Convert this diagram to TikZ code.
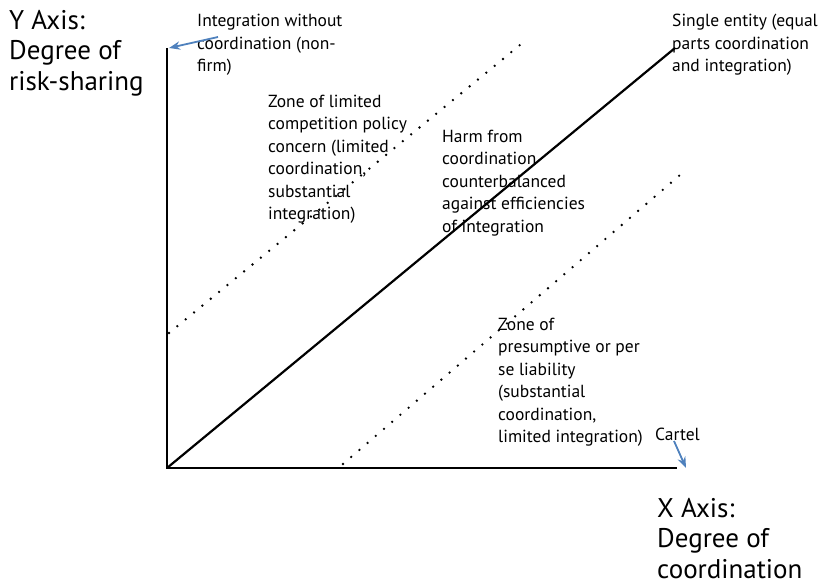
\documentclass[tikz,border=0pt]{standalone}
\usepackage{fontspec}
\setmainfont{PT Sans}
\usetikzlibrary{arrows.meta}
\definecolor{bluoffice}{RGB}{79,129,189}
\tikzset{
>=Stealth,
asse/.style={line width=2.6pt},
diagonale/.style={line width=2.2pt},
punteggiata/.style={line width=2.6pt,line cap=round,dash pattern=on 0pt off 10.8pt},
freccia/.style={->,draw=bluoffice,line width=1.8pt},
nota/.style={anchor=north west,inner sep=0pt,align=left,font=\fontsize{17.5}{22.5}\selectfont},
titolo/.style={anchor=north west,inner sep=0pt,align=left,font=\fontsize{27}{30.5}\selectfont}}

\begin{document}
\begin{tikzpicture}[x=1pt,y=-1pt]
\useasboundingbox (0,0) rectangle (821,583);

\coordinate (O) at (167,468);
\coordinate (ycima) at (167,48);
\coordinate (xfine) at (677,468);
\coordinate (diag) at (675,48);
\coordinate (p1) at (169,333);
\coordinate (p2) at (520,45);
\coordinate (q1) at (343,464);
\coordinate (q2) at (680,175);
\coordinate (f1) at (218,37);
\coordinate (f2) at (169,48);
\coordinate (c1) at (674,441);
\coordinate (c2) at (686,468);

\node[titolo] (yasse) at (9,10) {Y Axis:\\Degree of\\risk-sharing};
\node[titolo] (xasse) at (657,498) {X Axis:\\Degree of\\coordination};
\node[nota] (nonfirm) at (197,14) {Integration without\\coordination (non-\\firm)};
\node[nota] (entita) at (672,14) {Single entity (equal\\parts coordination\\and integration)};
\node[nota] (limitata) at (268,94.5) {Zone of limited\\competition policy\\concern (limited\\coordination,\\substantial\\integration)};
\node[nota] (danno) at (442,129.5) {Harm from\\coordination\\counterbalanced\\against efficiencies\\of integration};
\node[nota] (perse) at (498,317.5) {Zone of\\presumptive or per\\se liability\\(substantial\\coordination,\\limited integration)};
\node[nota,anchor=base west] (cartello) at (655,440) {Cartel};

\draw[asse] (ycima) -- (O) -- (xfine);
\draw[diagonale] (O) -- (diag);
\draw[punteggiata] (p1) -- (p2);
\draw[punteggiata] (q1) -- (q2);

\draw[freccia] (f1) -- (f2);
\draw[freccia] (c1) -- (c2);
\end{tikzpicture}
\end{document}
